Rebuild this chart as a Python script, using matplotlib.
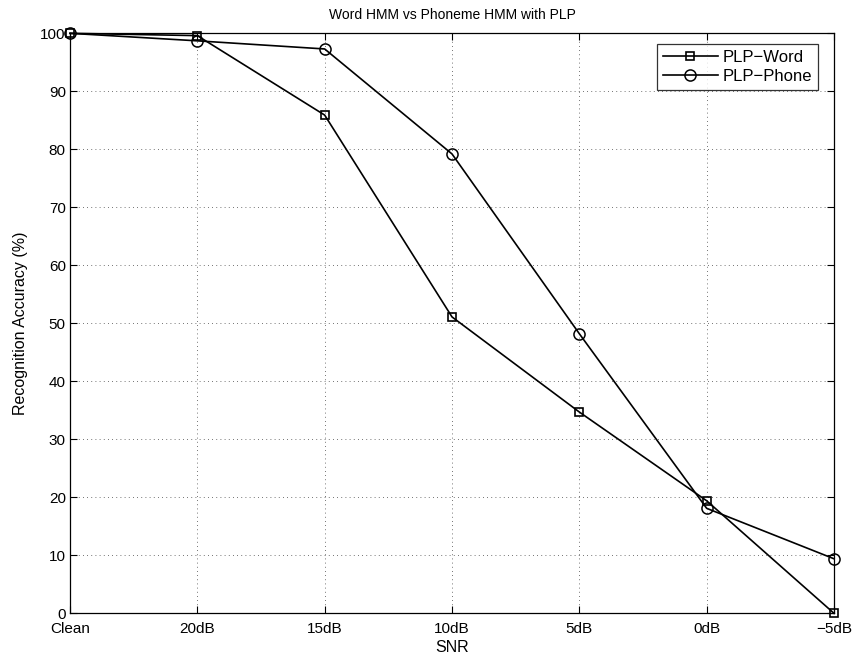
import matplotlib
matplotlib.use("Agg")
import matplotlib.pyplot as plt

plt.rcParams['font.family'] = ['Liberation Sans', 'DejaVu Sans']

categories = ["Clean", "20dB", "15dB", "10dB", "5dB", "0dB", "\u22125dB"]
plp_word = [100, 99.6, 85.9, 51.1, 34.7, 19.4, 0.0]
plp_phone = [100, 98.7, 97.3, 79.2, 48.2, 18.1, 9.4]
yticks = list(range(0, 101, 10))

fig = plt.figure(figsize=(8.53, 6.59), dpi=100)
ax = fig.add_axes([70/853, 1-613.3/659, 764/853, 580/659])

x = list(range(len(categories)))
ax.plot(x, plp_word, color='black', lw=1.2, marker='s', ms=6, mfc='none',
        mec='black', mew=1.2, label='PLP\u2212Word', clip_on=False, zorder=3)
ax.plot(x, plp_phone, color='black', lw=1.2, marker='o', ms=8, mfc='none',
        mec='black', mew=1.1, label='PLP\u2212Phone', clip_on=False, zorder=3)

ax.set_xlim(0, len(categories)-1)
ax.set_ylim(0, 100)
ax.set_xticks(x)
ax.set_xticklabels(categories, fontsize=11)
ax.set_yticks(yticks)
ax.set_yticklabels([str(v) for v in yticks], fontsize=11)
ax.tick_params(axis='both', direction='in', length=5, width=0.8, top=True,
               right=True, colors='black')
ax.tick_params(axis='x', pad=6)
ax.tick_params(axis='y', pad=3)
ax.grid(True, linestyle=(0, (1, 4)), color='#444444', linewidth=0.6)
for s in ax.spines.values():
    s.set_linewidth(0.9)

ax.set_title('Word HMM vs Phoneme HMM with PLP', fontsize=10, pad=10)
ax.set_xlabel('SNR', fontsize=11.5, labelpad=3)
ax.set_ylabel('Recognition Accuracy (%)', fontsize=11.5, labelpad=9)

leg = ax.legend(loc='upper right', bbox_to_anchor=((818-70)/764, (613.3-44)/580),
                fontsize=12, frameon=True, fancybox=False, edgecolor='black',
                borderaxespad=0, handlelength=3.3, handletextpad=0.3,
                borderpad=0.35, labelspacing=0.25)
leg.get_frame().set_linewidth(0.9)

fig.savefig('out.png', dpi=100)
